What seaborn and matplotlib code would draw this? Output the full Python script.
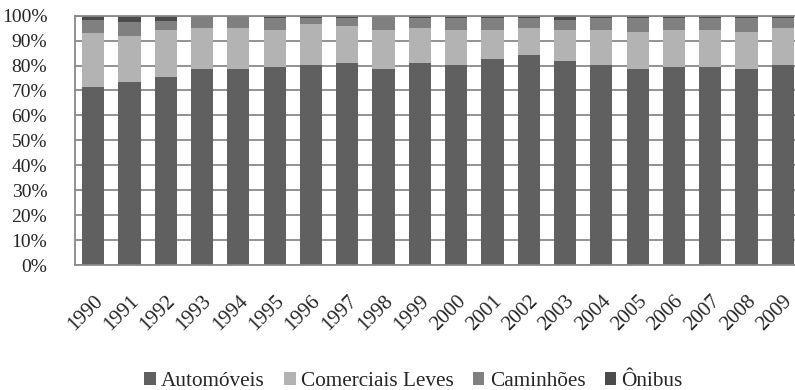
import matplotlib
matplotlib.use("Agg")
import matplotlib.pyplot as plt
import seaborn as sns
import pandas as pd
import numpy as np
from matplotlib.patches import Patch

years = [str(y) for y in range(1990, 2010)]
automoveis = [71.6, 73.3, 75.4, 78.6, 78.6, 79.4, 80.2, 81.0, 78.6, 81.0,
              80.2, 82.6, 84.1, 81.8, 80.2, 78.6, 79.4, 79.4, 78.6, 80.2]
comerciais = [21.4, 18.7, 19.0, 16.6, 16.6, 15.0, 16.6, 15.0, 15.8, 14.2,
              14.2, 11.8, 11.1, 12.6, 14.2, 14.9, 15.0, 15.0, 14.9, 15.0]
caminhoes = [5.4, 5.6, 3.4, 4.2, 4.2, 4.8, 2.4, 3.2, 5.0, 4.0,
             4.8, 4.8, 4.0, 4.0, 4.8, 5.7, 4.8, 4.8, 5.7, 4.0]
onibus = [1.6, 2.4, 2.2, 0.6, 0.6, 0.8, 0.8, 0.8, 0.6, 0.8,
          0.8, 0.8, 0.8, 1.6, 0.8, 0.8, 0.8, 0.8, 0.8, 0.8]

series_names = ["Automóveis", "Comerciais Leves", "Caminhões", "Ônibus"]
series_values = [automoveis, comerciais, caminhoes, onibus]
colors = ["#606060", "#b3b3b3", "#808080", "#4b4b4b"]

sns.set_theme(style="white")
plt.rcParams["font.family"] = ["Liberation Serif", "DejaVu Serif"]

df = pd.DataFrame({"ano": years})
cum = np.zeros(len(years))
for name, vals in zip(series_names, series_values):
    cum = cum + np.array(vals)
    df[name] = cum.copy()

fig = plt.figure(figsize=(7.95, 3.9), dpi=100)
ax = fig.add_axes([75 / 795, 125 / 390, 726 / 795, 249.3 / 390])

# draw stacked bars from the tallest cumulative total down
for name, color in reversed(list(zip(series_names, colors))):
    sns.barplot(data=df, x="ano", y=name, color=color, width=0.61,
                saturation=1, ax=ax, zorder=2, edgecolor="none")

ax.set_xlim(-0.5, 19.5)
ax.set_ylim(0, 100)
ax.set_yticks(np.arange(0, 101, 10))
ax.set_yticklabels([f"{v}%" for v in range(0, 101, 10)], fontsize=14)
ax.set_xticks(range(len(years)))
ax.set_xticklabels(years, rotation=45, ha="right", rotation_mode="anchor",
                   fontsize=15)
ax.set_xlabel("")
ax.set_ylabel("")

ax.yaxis.grid(True, color="#8a8a8a", linewidth=1.3, zorder=1)
ax.set_axisbelow(True)
for s in ax.spines.values():
    s.set_color("#8a8a8a")
    s.set_linewidth(1.3)
ax.tick_params(axis="y", left=False, pad=14)
ax.tick_params(axis="x", bottom=False, pad=13)

handles = [Patch(facecolor=c, edgecolor="none") for c in colors]
fig.legend(handles, series_names, loc="center", bbox_to_anchor=(0.52, 0.022),
           ncol=4, frameon=False, fontsize=15.3, handlelength=0.55,
           handleheight=0.55, handletextpad=0.25, columnspacing=0.9)

fig.savefig("out.png", dpi=100)
